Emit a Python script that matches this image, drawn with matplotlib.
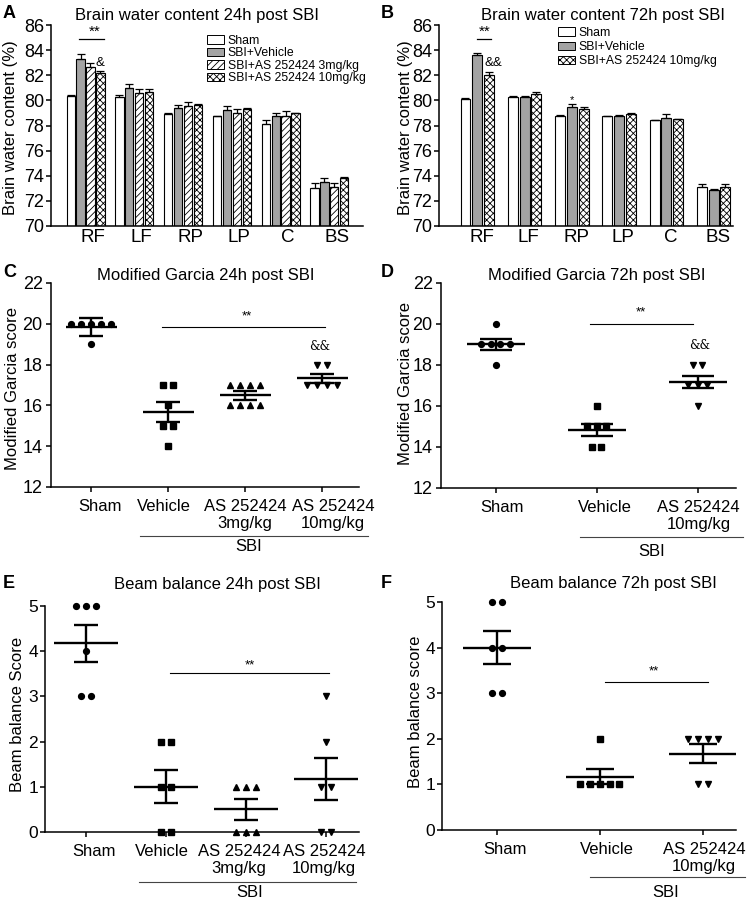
import numpy as np
import matplotlib.pyplot as plt
from matplotlib.patches import Patch
from matplotlib.transforms import ScaledTranslation

plt.rcParams['font.family'] = ['Liberation Sans', 'DejaVu Sans']
plt.rcParams['hatch.linewidth'] = 0.6

# ---------------- data ----------------
regions = ['RF', 'LF', 'RP', 'LP', 'C', 'BS']

# brain water content 24h (%)
wc24_sham = [80.35, 80.3, 78.95, 78.75, 78.15, 73.0]
wc24_sham_err = [0.08, 0.1, 0.03, 0.03, 0.27, 0.4]
wc24_veh = [83.27, 80.96, 79.37, 79.24, 78.76, 73.53]
wc24_veh_err = [0.42, 0.32, 0.26, 0.3, 0.2, 0.32]
wc24_as3 = [82.63, 80.61, 79.55, 78.97, 78.76, 73.1]
wc24_as3_err = [0.32, 0.26, 0.3, 0.32, 0.4, 0.35]
wc24_as10 = [82.15, 80.67, 79.63, 79.29, 78.97, 73.85]
wc24_as10_err = [0.21, 0.2, 0.08, 0.08, 0.05, 0.08]

# brain water content 72h (%)
wc72_sham = [80.11, 80.24, 78.78, 78.76, 78.44, 73.13]
wc72_sham_err = [0.04, 0.11, 0.03, 0.03, 0.03, 0.19]
wc72_veh = [83.64, 80.24, 79.5, 78.78, 78.57, 72.86]
wc72_veh_err = [0.11, 0.11, 0.21, 0.03, 0.34, 0.11]
wc72_as10 = [82.02, 80.5, 79.29, 78.91, 78.49, 73.13]
wc72_as10_err = [0.26, 0.17, 0.21, 0.11, 0.05, 0.19]

legend4 = ['Sham', 'SBI+Vehicle', 'SBI+AS 252424 3mg/kg', 'SBI+AS 252424 10mg/kg']
legend3 = ['Sham', 'SBI+Vehicle', 'SBI+AS 252424 10mg/kg']

groups4 = ['Sham', 'Vehicle', 'AS 252424\n3mg/kg', 'AS 252424\n10mg/kg']
groups3 = ['Sham', 'Vehicle', 'AS 252424\n10mg/kg']

# modified Garcia
garcia24_sham = [20, 20, 20, 20, 20, 19]
garcia24_veh = [17, 17, 16, 15, 15, 14]
garcia24_as3 = [17, 17, 17, 17, 16, 16, 16, 16]
garcia24_as10 = [18, 18, 17, 17, 17, 17]
garcia24_mean = [19.83, 15.67, 16.5, 17.33]
garcia24_sem = [0.43, 0.5, 0.22, 0.21]

garcia72_sham = [20, 19, 19, 19, 19, 18]
garcia72_veh = [16, 15, 15, 15, 14, 14]
garcia72_as10 = [18, 18, 17, 17, 17, 16]
garcia72_mean = [19.0, 14.83, 17.17]
garcia72_sem = [0.28, 0.31, 0.31]

# beam balance
beam24_sham = [5, 5, 5, 4, 3, 3]
beam24_veh = [2, 2, 1, 1, 0, 0]
beam24_as3 = [1, 1, 1, 0, 0, 0]
beam24_as10 = [3, 2, 1, 1, 0, 0]
beam24_mean = [4.17, 1.0, 0.5, 1.17]
beam24_sem = [0.4, 0.37, 0.23, 0.47]

beam72_sham = [5, 5, 4, 4, 3, 3]
beam72_veh = [2, 1, 1, 1, 1, 1]
beam72_as10 = [2, 2, 2, 2, 1, 1]
beam72_mean = [4.0, 1.17, 1.67]
beam72_sem = [0.37, 0.17, 0.21]

# ---------------- styles ----------------
bar_styles = [dict(facecolor='white', hatch=None),
              dict(facecolor='#a3a3a3', hatch=None),
              dict(facecolor='white', hatch='/////'),
              dict(facecolor='white', hatch='xxxxx')]

fig = plt.figure(figsize=(7.56, 9), dpi=100)


def style_axes(ax, ticksize, ypad):
    for s in ['top', 'right']:
        ax.spines[s].set_visible(False)
    for s in ['left', 'bottom']:
        ax.spines[s].set_linewidth(1.1)
    ax.tick_params(axis='both', direction='out', length=3.5, width=1.1,
                   labelsize=ticksize, colors='black')
    ax.tick_params(axis='y', pad=ypad)


def shift_labels(ax, shifts_px):
    # nudge category labels sideways the way the original layout has them
    for lbl, d in zip(ax.get_xticklabels(), shifts_px):
        lbl.set_transform(lbl.get_transform() +
                          ScaledTranslation(d / 100, 0, fig.dpi_scale_trans))


def bar_panel(ax, series, errs, styles, step, width, cap):
    n = len(series)
    x = np.arange(len(regions))
    for k in range(n):
        off = (k - (n - 1) / 2) * step
        st = styles[k]
        ax.bar(x + off, series[k], width, bottom=0,
               facecolor=st['facecolor'], hatch=st['hatch'],
               edgecolor='black', linewidth=0.8,
               yerr=[np.zeros(len(errs[k])), errs[k]], capsize=cap,
               error_kw=dict(elinewidth=0.9, capthick=0.9, ecolor='black'))
    ax.set_ylim(70, 86)
    ax.set_yticks(np.arange(70, 87, 2))


def dot_panel(ax, groups, means, sems, markers, px_cat, half_mean_px, half_cap_px):
    dx = 9.8 / px_cat
    for i, (vals, m, s, mk) in enumerate(zip(groups, means, sems, markers)):
        vals = np.asarray(vals, dtype=float)
        xs = np.zeros(len(vals))
        for v in np.unique(vals):
            idx = np.where(vals == v)[0]
            xs[idx] = i + (np.arange(len(idx)) - (len(idx) - 1) / 2) * dx
        ax.plot(xs, vals, linestyle='none', marker=mk, color='black',
                markersize=4.6 if mk in '^v' else 4.2, zorder=3, clip_on=False)
        hw = half_mean_px / px_cat
        ax.hlines(m, i - hw, i + hw, color='black', lw=1.7, zorder=4)
        ax.errorbar([i], [m], yerr=[s], fmt='none', ecolor='black',
                    elinewidth=1.7, capsize=half_cap_px / 1.389, capthick=1.7, zorder=4)


def sbi_label(ax, x0, x1, yline, xtext, ytext):
    tr = ax.get_xaxis_transform()
    ax.plot([x0, x1], [yline, yline], color='#444444', lw=0.8,
            transform=tr, clip_on=False)
    ax.text(xtext, ytext, 'SBI', transform=tr, ha='center', va='center',
            fontsize=12)


# ---------------- A ----------------
axA = fig.add_axes([0.0675, 0.7489, 0.4127, 0.2233])
bar_panel(axA, [wc24_sham, wc24_veh, wc24_as3, wc24_as10],
          [wc24_sham_err, wc24_veh_err, wc24_as3_err, wc24_as10_err],
          bar_styles, 0.203, 0.17, 2.6)
axA.set_xlim(-0.707, 5.69)
style_axes(axA, 13, 1.5)
axA.set_xticks(np.arange(len(regions)) + 0.15)
axA.set_xticklabels(regions, fontsize=13.5)
axA.tick_params(axis='x', length=0, pad=2)
axA.set_ylabel('Brain water content (%)', fontsize=12)
axA.yaxis.set_label_coords(-0.106, 0.49)
axA.text(0.468, 1.025, 'Brain water content 24h post SBI', transform=axA.transAxes,
         ha='center', va='baseline', fontsize=12)
axA.plot([-0.13, 0.38], [84.86, 84.86], color='black', lw=0.9)
axA.text(0.19, 85.45, '**', ha='center', va='center', fontsize=11)
axA.text(0.3, 82.95, '&', ha='center', va='center', fontsize=9.5)
hA = [Patch(facecolor=s['facecolor'], hatch=s['hatch'], edgecolor='black', lw=0.7)
      for s in bar_styles]
axA.legend(hA, legend4, loc='upper left', bbox_to_anchor=(0.2738, 0.9611),
           bbox_transform=fig.transFigure, frameon=False, fontsize=8.8,
           handlelength=1.4, handleheight=0.7, handletextpad=0.3,
           labelspacing=0.03, borderpad=0, borderaxespad=0)

# ---------------- B ----------------
axB = fig.add_axes([0.5807, 0.7489, 0.3889, 0.2233])
styles3 = [bar_styles[0], bar_styles[1], bar_styles[3]]
bar_panel(axB, [wc72_sham, wc72_veh, wc72_as10],
          [wc72_sham_err, wc72_veh_err, wc72_as10_err],
          styles3, 0.25, 0.21, 3.2)
axB.set_xlim(-0.81, 5.41)
style_axes(axB, 13, 1.5)
axB.set_xticks(np.arange(len(regions)) + 0.09)
axB.set_xticklabels(regions, fontsize=13.5)
axB.tick_params(axis='x', length=0, pad=2)
axB.set_ylabel('Brain water content (%)', fontsize=12)
axB.yaxis.set_label_coords(-0.088, 0.49)
axB.text(0.558, 1.025, 'Brain water content 72h post SBI', transform=axB.transAxes,
         ha='center', va='baseline', fontsize=12)
axB.plot([0.0, 0.3], [84.86, 84.86], color='black', lw=0.9)
axB.text(0.16, 85.45, '**', ha='center', va='center', fontsize=11)
axB.text(0.34, 82.95, '&&', ha='center', va='center', fontsize=9.5)
axB.text(2.0, 80.0, '*', ha='center', va='center', fontsize=8)
hB = [Patch(facecolor=s['facecolor'], hatch=s['hatch'], edgecolor='black', lw=0.7)
      for s in styles3]
axB.legend(hB, legend3, loc='upper left', bbox_to_anchor=(0.738, 0.9700),
           bbox_transform=fig.transFigure, frameon=False, fontsize=8.8,
           handlelength=1.4, handleheight=0.7, handletextpad=0.3,
           labelspacing=0.18, borderpad=0, borderaxespad=0)

# ---------------- C ----------------
axC = fig.add_axes([0.0675, 0.4589, 0.4074, 0.2267])
dot_panel(axC, [garcia24_sham, garcia24_veh, garcia24_as3, garcia24_as10],
          garcia24_mean, garcia24_sem, ['o', 's', '^', 'v'], 77, 25.5, 12.5)
axC.set_xlim(-0.52, 3.48)
axC.set_ylim(12, 22)
axC.set_yticks(np.arange(12, 23, 2))
style_axes(axC, 13, 2.5)
axC.set_xticks(range(4))
axC.set_xticklabels(groups4, fontsize=12)
axC.tick_params(axis='x', pad=5)
shift_labels(axC, [9, -4, 0, 11])
axC.set_ylabel('Modified Garcia score', fontsize=12)
axC.yaxis.set_label_coords(-0.10, 0.485)
axC.text(0.503, 1.015, 'Modified Garcia 24h post SBI', transform=axC.transAxes,
         ha='center', va='baseline', fontsize=12)
axC.plot([0.92, 3.04], [19.83, 19.83], color='black', lw=0.8)
axC.text(2.02, 20.35, '**', ha='center', va='center', fontsize=9.5)
axC.text(2.97, 18.91, '&&', ha='center', va='center', fontsize=8.5, family='DejaVu Serif')
sbi_label(axC, 0.64, 3.6, -0.24, 2.05, -0.294)

# ---------------- D ----------------
axD = fig.add_axes([0.5833, 0.4578, 0.3902, 0.2278])
dot_panel(axD, [garcia72_sham, garcia72_veh, garcia72_as10],
          garcia72_mean, garcia72_sem, ['o', 's', 'v'], 101, 29, 16)
axD.set_xlim(-0.54, 2.38)
axD.set_ylim(12, 22)
axD.set_yticks(np.arange(12, 23, 2))
style_axes(axD, 13, 2.5)
axD.set_xticks(range(3))
axD.set_xticklabels(groups3, fontsize=12)
axD.tick_params(axis='x', pad=5)
shift_labels(axD, [7, 8, 1])
axD.set_ylabel('Modified Garcia score', fontsize=12)
axD.yaxis.set_label_coords(-0.095, 0.51)
axD.text(0.529, 1.015, 'Modified Garcia 72h post SBI', transform=axD.transAxes,
         ha='center', va='baseline', fontsize=12)
axD.plot([0.94, 1.95], [19.99, 19.99], color='black', lw=0.8)
axD.text(1.44, 20.57, '**', ha='center', va='center', fontsize=9.5)
axD.text(2.02, 18.93, '&&', ha='center', va='center', fontsize=8.5, family='DejaVu Serif')
sbi_label(axD, 0.84, 2.45, -0.24, 1.55, -0.31)

# ---------------- E ----------------
axE = fig.add_axes([0.0595, 0.0756, 0.4153, 0.2511])
dot_panel(axE, [beam24_sham, beam24_veh, beam24_as3, beam24_as10],
          beam24_mean, beam24_sem, ['o', 's', '^', 'v'], 80, 32, 12.5)
axE.set_xlim(-0.51, 3.41)
axE.set_ylim(0, 5)
axE.set_yticks(range(6))
style_axes(axE, 12.5, 1.5)
axE.set_xticks(range(4))
axE.set_xticklabels(groups4, fontsize=12)
axE.tick_params(axis='x', pad=5)
shift_labels(axE, [8, -4, -7, -2])
axE.set_ylabel('Beam balance Score', fontsize=12)
axE.yaxis.set_label_coords(-0.064, 0.52)
axE.text(0.548, 1.074, 'Beam balance 24h post SBI', transform=axE.transAxes,
         ha='center', va='baseline', fontsize=12)
axE.plot([1.05, 3.03], [3.51, 3.51], color='black', lw=0.8)
axE.text(2.05, 3.69, '**', ha='center', va='center', fontsize=9.5)
sbi_label(axE, 0.66, 3.375, -0.221, 2.04, -0.27)

# ---------------- F ----------------
axF = fig.add_axes([0.5847, 0.0778, 0.3889, 0.2533])
dot_panel(axF, [beam72_sham, beam72_veh, beam72_as10],
          beam72_mean, beam72_sem, ['o', 's', 'v'], 103, 34, 14)
axF.set_xlim(-0.53, 2.32)
axF.set_ylim(0, 5)
axF.set_yticks(range(6))
style_axes(axF, 12.5, 1.5)
axF.set_xticks(range(3))
axF.set_xticklabels(groups3, fontsize=12)
axF.tick_params(axis='x', pad=5)
shift_labels(axF, [8, 7, 1])
axF.set_ylabel('Beam balance score', fontsize=12)
axF.yaxis.set_label_coords(-0.065, 0.52)
axF.text(0.582, 1.063, 'Beam balance 72h post SBI', transform=axF.transAxes,
         ha='center', va='baseline', fontsize=12)
axF.plot([1.05, 2.05], [3.25, 3.25], color='black', lw=0.8)
axF.text(1.52, 3.47, '**', ha='center', va='center', fontsize=9.5)
sbi_label(axF, 0.9, 2.41, -0.206, 1.64, -0.276)

# panel letters
for lab, x, y in [('A', 0.004, 0.980), ('B', 0.504, 0.980),
                  ('C', 0.004, 0.692), ('D', 0.504, 0.692),
                  ('E', 0.004, 0.347), ('F', 0.504, 0.347)]:
    fig.text(x, y, lab, fontsize=13, fontweight='bold', ha='left', va='baseline')

fig.savefig('out.png', dpi=100)
